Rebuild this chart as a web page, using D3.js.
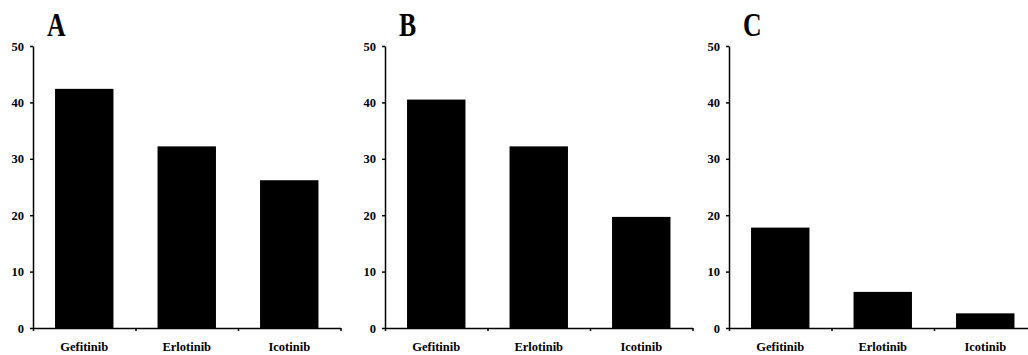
<!DOCTYPE html>
<html>
<head>
<meta charset="utf-8">
<script src="https://cdn.jsdelivr.net/npm/d3@7"></script>
<style>
  html, body { margin: 0; padding: 0; background: #fff; }
  svg { display: block; }
  text { font-family: "Liberation Serif", "Times New Roman", serif; font-weight: bold; fill: #000; }
</style>
</head>
<body>
<script>
// Three panels of drug percentages
const categories = ["Gefitinib", "Erlotinib", "Icotinib"];
const panelLabels = ["A", "B", "C"];
const valuesA = [42.4, 32.2, 26.2];
const valuesB = [40.5, 32.2, 19.7];
const valuesC = [17.8, 6.4, 2.6];
const yTicks = [0, 10, 20, 30, 40, 50];

const panels = [
  { label: panelLabels[0], values: valuesA, x0: 33 },
  { label: panelLabels[1], values: valuesB, x0: 385 },
  { label: panelLabels[2], values: valuesC, x0: 729 }
];

const W = 1028, H = 355;
const plotTop = 46, plotBottom = 328, bandW = 102.5;

const svg = d3.select("body").append("svg")
  .attr("width", W).attr("height", H);

const y = d3.scaleLinear().domain([0, 50]).range([plotBottom, plotTop]);

panels.forEach(p => {
  const g = svg.append("g").attr("transform", `translate(${p.x0},0)`);
  const x = d3.scaleBand().domain(categories).range([0, bandW * categories.length])
    .paddingInner(0.43).paddingOuter(0.215);
  const xEdge = d3.scaleLinear().domain([0, categories.length]).range([0, bandW * categories.length]);

  // bars
  g.selectAll("rect.bar").data(p.values).join("rect")
    .attr("class", "bar")
    .attr("x", (d, i) => x(categories[i]))
    .attr("width", x.bandwidth())
    .attr("y", d => y(d))
    .attr("height", d => y(0) - y(d))
    .attr("fill", "#000");

  // y axis
  const ya = g.append("g").call(d3.axisLeft(y).tickValues(yTicks).tickSize(3).tickSizeOuter(0).tickPadding(6));
  ya.selectAll("text").style("font-size", "12.5px");

  // x axis baseline with ticks at band edges
  g.append("g").attr("transform", `translate(0,${plotBottom})`)
    .call(d3.axisBottom(xEdge).tickValues(d3.range(categories.length + 1)).tickFormat("").tickSize(3).tickSizeOuter(0));

  // category labels
  const xl = g.append("g").attr("transform", `translate(0,${plotBottom})`)
    .call(d3.axisBottom(x).tickSize(0).tickPadding(14));
  xl.select(".domain").remove();
  xl.selectAll("text").style("font-size", "12.5px");

  g.selectAll(".domain, .tick line").attr("stroke", "#000").attr("stroke-width", 1.5);

  // panel letter
  g.append("text")
    .attr("transform", "translate(14,36) scale(0.78,1)")
    .style("font-size", "33px")
    .text(p.label);
});
</script>
</body>
</html>
